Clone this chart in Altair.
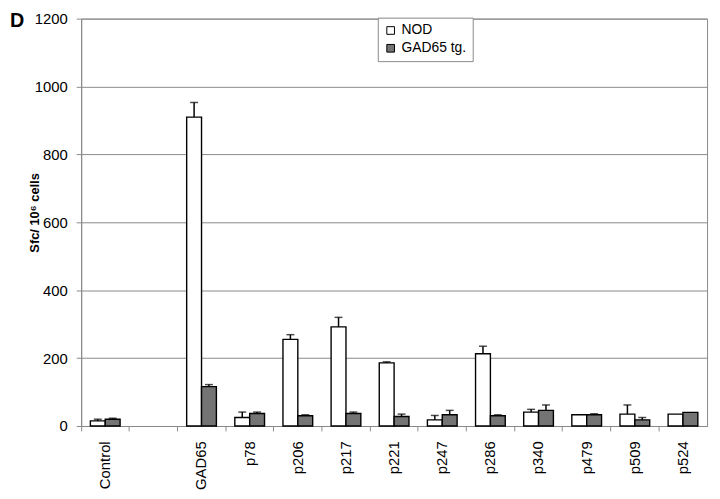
import altair as alt
import pandas as pd

categories = ["Control", " ", "GAD65", "p78", "p206", "p217", "p221", "p247",
              "p286", "p340", "p479", "p509", "p524"]
peptides = ["Control", "GAD65", "p78", "p206", "p217", "p221", "p247",
            "p286", "p340", "p479", "p509", "p524"]
series_names = ["NOD", "GAD65 tg."]
nod_mean = [15, 910, 25, 255, 292, 186, 18, 213, 41, 33, 35, 35]
nod_err = [20, 953, 41, 269, 320, 189, 31, 235, 49, None, 62, None]
tg_mean = [20, 116, 37, 30, 37, 28, 33, 30, 46, 33, 18, 40]
tg_err = [23, 122, 41, 33, 41, 35, 46, 33, 62, 36, 25, None]
y_ticks = [0, 200, 400, 600, 800, 1000, 1200]

rows = []
for i, p in enumerate(peptides):
    rows.append({"cat": p, "series": series_names[0], "value": nod_mean[i], "err": nod_err[i]})
    rows.append({"cat": p, "series": series_names[1], "value": tg_mean[i], "err": tg_err[i]})
df = pd.DataFrame(rows)

FONT = "Liberation Sans"
GRAY = "#8a8a8a"

base = alt.Chart(df).encode(
    x=alt.X("cat:N",
            scale=alt.Scale(domain=categories, paddingInner=0, paddingOuter=0),
            axis=alt.Axis(title=None, labelAngle=-90, labelFontSize=15, labelFont=FONT,
                          labelColor="black", labelPadding=10, tickSize=5, bandPosition=0,
                          tickColor=GRAY, domainColor=GRAY, grid=False)),
    xOffset=alt.XOffset("series:N",
                        scale=alt.Scale(domain=series_names, paddingInner=0, paddingOuter=0.62)),
)

bars = base.mark_bar(stroke="black", strokeWidth=1.4).encode(
    y=alt.Y("value:Q",
            scale=alt.Scale(domain=[0, 1200], nice=False),
            axis=alt.Axis(title="Sfc/ 10⁶ cells", values=y_ticks, format="d", labelFontSize=15,
                          labelFont=FONT, labelColor="black", tickSize=5, labelPadding=9,
                          tickColor=GRAY, domainColor=GRAY, gridColor=GRAY, grid=True,
                          titleFont=FONT, titleFontSize=13, titleFontWeight="bold",
                          titleColor="black", titleX=-47, titleY=196, titleAngle=-90,
                          titleBaseline="middle", titleAlign="center")),
    fill=alt.Fill("series:N",
                  scale=alt.Scale(domain=series_names, range=["white", "#747474"]),
                  legend=alt.Legend(title=None, orient="none", legendX=300, legendY=-1,
                                    strokeColor=GRAY, fillColor="white", padding=6,
                                    labelFontSize=14, labelFont=FONT, labelColor="black",
                                    symbolType="square", symbolSize=60,
                                    symbolStrokeColor="black", symbolStrokeWidth=1,
                                    rowPadding=4, labelOffset=4,
                                    labelExpr="datum.label + '\u00a0\u00a0\u00a0\u00a0\u00a0'")),
)

errs = base.transform_filter("datum.err != null").mark_rule(
    color="black", strokeWidth=1.5).encode(y="value:Q", y2="err:Q")
caps = base.transform_filter("datum.err != null").mark_tick(
    color="black", thickness=1.5, size=8).encode(y="err:Q")

chart = alt.layer(bars, errs, caps).properties(
    width=633, height=412,
    autosize=alt.AutoSizeParams(type="none"),
    padding={"left": 74, "top": 8, "right": 5, "bottom": 63},
    title=alt.TitleParams("D", anchor="start", frame="group", dx=-72, offset=0, dy=19,
                          baseline="top", fontSize=20, fontWeight="bold", font=FONT,
                          color="black"),
).configure_view(stroke=GRAY, strokeWidth=1)

chart.save("out.html", embed_options={"renderer": "svg", "actions": False})
